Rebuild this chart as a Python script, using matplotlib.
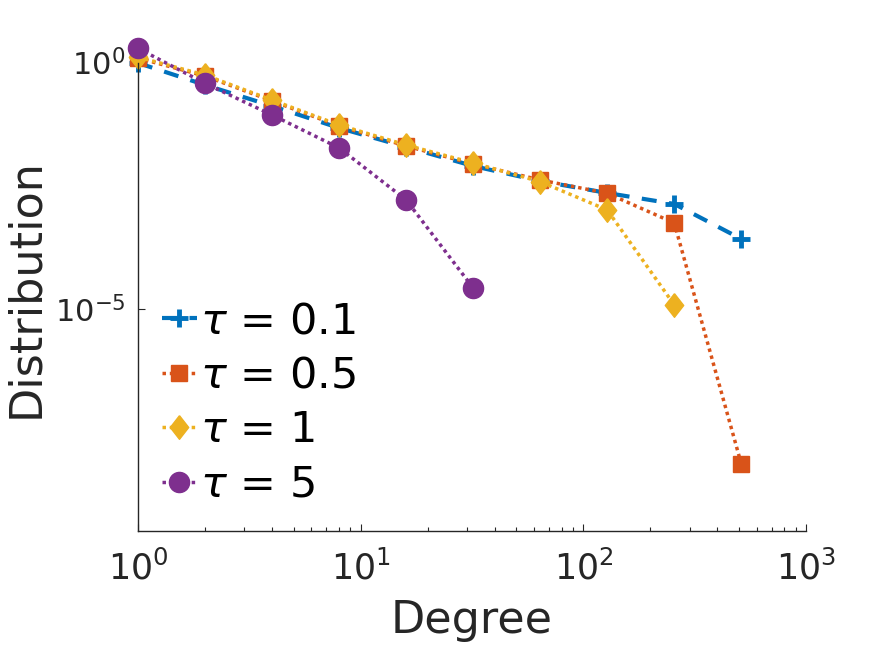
import numpy as np
import matplotlib
matplotlib.use('Agg')
import matplotlib.pyplot as plt
from matplotlib.ticker import FixedLocator, LogLocator, NullLocator

plt.rcParams['font.family'] = 'DejaVu Sans'
plt.rcParams['axes.unicode_minus'] = False

# degree values (powers of two)
degree = [1, 2, 4, 8, 16, 32, 64, 128, 256, 512]

# distributions
dist_01 = [0.977, 0.350, 0.131, 0.0469, 0.0193, 0.00794, 0.00394, 0.00225, 0.00135, 0.000263]
dist_05 = [1.23, 0.532, 0.166, 0.0515, 0.0202, 0.00873, 0.00414, 0.00222, 0.000555, 7.18e-9]
dist_1 = [1.29, 0.557, 0.173, 0.0540, 0.0212, 0.00914, 0.00382, 0.00102, 1.21e-5]
dist_5 = [1.94, 0.378, 0.0861, 0.0185, 0.00163, 2.67e-5]

labels = [r'$\tau$ = 0.1', r'$\tau$ = 0.5', r'$\tau$ = 1', r'$\tau$ = 5']

c_blue = '#0072BD'
c_orange = '#D95319'
c_yellow = '#EDB120'
c_purple = '#7E2F8E'
axcol = '#262626'

diamond = [(0, 1), (0.78, 0), (0, -1), (-0.78, 0), (0, 1)]

fig = plt.figure(figsize=(8.91, 6.45), dpi=100)
ax = fig.add_axes([138 / 891, 1 - 530.7 / 645, (806 - 138) / 891, (530.7 - 62.5) / 645])

ax.plot(degree, dist_01, color=c_blue, lw=3, dashes=(3.6, 3.0), marker='+',
        ms=13, mew=3.5, label=labels[0], clip_on=False)
ax.plot(degree, dist_05, color=c_orange, lw=2.5, dashes=(1, 1.1), marker='s',
        ms=11.5, mec=c_orange, label=labels[1], clip_on=False)
ax.plot(degree[:9], dist_1, color=c_yellow, lw=2.5, dashes=(1, 1.1), marker=diamond,
        ms=17, mec=c_yellow, label=labels[2], clip_on=False)
ax.plot(degree[:6], dist_5, color=c_purple, lw=2.5, dashes=(1, 1.1), marker='o',
        ms=14.5, mec=c_purple, label=labels[3], clip_on=False)

ax.set_xscale('log')
ax.set_yscale('log')
ax.set_xlim(1, 1000)
ax.set_ylim(10 ** -9.5, 1)

ax.xaxis.set_major_locator(FixedLocator([1, 10, 100, 1000]))
ax.xaxis.set_minor_locator(LogLocator(base=10, subs=np.arange(2, 10)))
ax.yaxis.set_major_locator(FixedLocator([1e-5, 1]))
ax.yaxis.set_minor_locator(NullLocator())

ax.spines['top'].set_visible(False)
ax.spines['right'].set_visible(False)
for s in ['left', 'bottom']:
    ax.spines[s].set_color(axcol)
    ax.spines[s].set_linewidth(1)

ax.tick_params(which='both', direction='in', colors=axcol, width=0.8)
ax.tick_params(which='major', length=5)
ax.tick_params(which='minor', length=3)
ax.tick_params(axis='x', pad=14, labelsize=25)
ax.tick_params(axis='y', pad=9, labelsize=22)

ax.set_xlabel('Degree', fontsize=32, color=axcol, labelpad=9)
ax.set_ylabel('Distribution', fontsize=32, color=axcol)
ax.yaxis.label.set_verticalalignment('center')
ax.yaxis.set_label_coords(-0.168, 0.518)

ax.legend(loc='center left', bbox_to_anchor=(162 / 891, 1 - 403 / 645),
          bbox_transform=fig.transFigure, frameon=False, fontsize=31,
          handlelength=0.81, handletextpad=0.07, labelspacing=0.29,
          borderpad=0, borderaxespad=0)

fig.savefig('out.png', dpi=100)
